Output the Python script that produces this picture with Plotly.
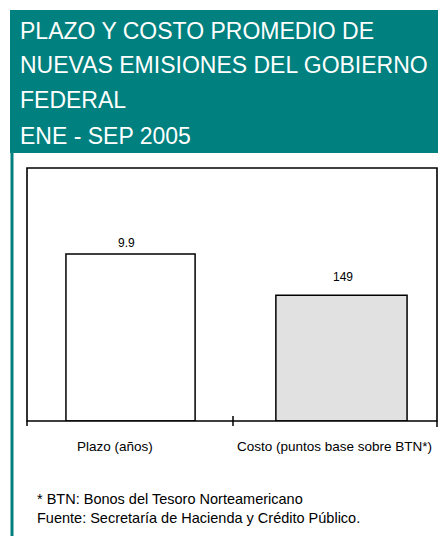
import plotly.graph_objects as go

# ---- data ----
categories = ["Plazo (años)", "Costo (puntos base sobre BTN*)"]
plazo_values = [9.9]
costo_values = [149]
value_labels = ["9.9", "149"]
title_display = ["PLAZO Y COSTO PROMEDIO DE", "NUEVAS EMISIONES DEL GOBIERNO",
                 "FEDERAL", "ENE - SEP 2005"]
footnotes = ["* BTN: Bonos del Tesoro Norteamericano",
             "Fuente: Secretaría de Hacienda y Crédito Público."]

# ---- layout geometry (pixels, in screenshot coordinates) ----
OFF = 8  # page body margin
W, H = 446 - OFF, 536 - OFF
L, R, T, B = 27, 437, 168, 421
PW, PH = R - L, B - T

def px(x):
    return (x - L) / PW

def py(y):
    return (B - y) / PH

TEAL = "#00807E"
FONT = "Liberation Sans, Arial, sans-serif"

fig = go.Figure()
fig.add_trace(go.Bar(
    x=[categories[0]], y=plazo_values, yaxis="y",
    marker=dict(color="white", line=dict(color="black", width=1.5)),
    width=0.63, offset=-0.31, showlegend=False, hoverinfo="skip",
))
fig.add_trace(go.Bar(
    x=[categories[1]], y=costo_values, yaxis="y2",
    marker=dict(color="#E1E1E1", line=dict(color="black", width=1.5)),
    width=0.64, offset=-0.286, showlegend=False, hoverinfo="skip",
))

shapes = []
# teal header block
shapes.append(dict(type="rect", xref="paper", yref="paper",
                   x0=px(10), x1=px(470), y0=py(153), y1=py(10),
                   fillcolor=TEAL, line=dict(width=0), layer="below"))
# left teal border
shapes.append(dict(type="rect", xref="paper", yref="paper",
                   x0=px(10.5), x1=px(13.5), y0=py(560), y1=py(153),
                   fillcolor=TEAL, line=dict(width=0), layer="below"))
# plot box
shapes.append(dict(type="rect", xref="paper", yref="paper",
                   x0=0, x1=1, y0=0, y1=1,
                   line=dict(color="black", width=1.6), layer="above"))
# tick marks
for tx, ty0, ty1 in [(L, 421, 426), (233, 416, 426), (R, 421, 427)]:
    shapes.append(dict(type="line", xref="paper", yref="paper",
                       x0=px(tx), x1=px(tx), y0=py(ty0), y1=py(ty1),
                       line=dict(color="black", width=1.5)))

annotations = []
title_y = [31, 65, 100, 136]
for txt, yy in zip(title_display, title_y):
    annotations.append(dict(text=txt, xref="paper", yref="paper",
                            x=px(18), y=py(yy), xanchor="left", yanchor="middle",
                            showarrow=False,
                            font=dict(family=FONT, size=23, color="white")))
# value labels
annotations.append(dict(text=value_labels[0], x=categories[0], y=plazo_values[0],
                        xref="x", yref="y", yanchor="bottom", xshift=-3, yshift=2,
                        showarrow=False, font=dict(family=FONT, size=12, color="black")))
annotations.append(dict(text=value_labels[1], x=categories[1], y=costo_values[0],
                        xref="x", yref="y2", yanchor="bottom", xshift=8, yshift=9,
                        showarrow=False, font=dict(family=FONT, size=12, color="black")))
# category labels
for cat, xs in zip(categories, [-15, 0]):
    annotations.append(dict(text=cat, x=cat, xref="x", yref="paper", y=py(446),
                            yanchor="middle", xshift=xs, showarrow=False,
                            font=dict(family=FONT, size=13.5, color="black")))
# footnotes
for txt, yy in zip(footnotes, [499, 518]):
    annotations.append(dict(text=txt, xref="paper", yref="paper",
                            x=px(35), y=py(yy), xanchor="left", yanchor="middle",
                            showarrow=False,
                            font=dict(family=FONT, size=14.5, color="black")))

fig.update_layout(
    width=W, height=H,
    margin=dict(l=L - OFF, r=446 - R, t=T - OFF, b=536 - B, pad=0),
    paper_bgcolor="white", plot_bgcolor="white",
    barmode="overlay",
    xaxis=dict(type="category", categoryorder="array", categoryarray=categories,
               range=[-0.5, 1.5], showticklabels=False, showgrid=False,
               zeroline=False, showline=False, ticks=""),
    yaxis=dict(range=[0, 15], visible=False, showgrid=False, zeroline=False),
    yaxis2=dict(range=[0, 300], overlaying="y", visible=False, showgrid=False,
                zeroline=False),
    shapes=shapes,
    annotations=annotations,
    showlegend=False,
)

fig.write_html("out.html")
